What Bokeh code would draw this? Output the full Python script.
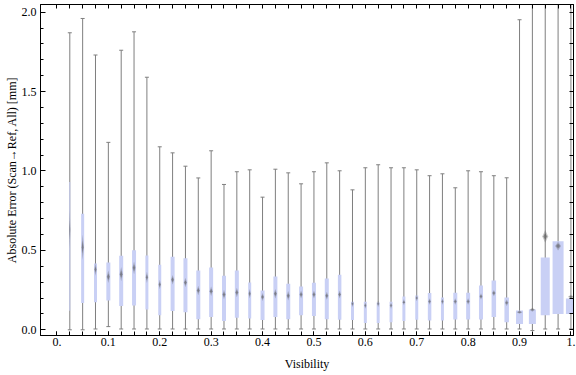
from bokeh.plotting import figure
from bokeh.models import Range1d, LinearAxis, FixedTicker, ColumnDataSource
from bokeh.embed import file_html
from bokeh.resources import INLINE

# ---- data ----
visibility = [0.025, 0.05, 0.075, 0.1, 0.125, 0.15, 0.175, 0.2, 0.225, 0.25,
              0.275, 0.3, 0.325, 0.35, 0.375, 0.4, 0.425, 0.45, 0.475, 0.5,
              0.525, 0.55, 0.575, 0.6, 0.625, 0.65, 0.675, 0.7, 0.725, 0.75,
              0.775, 0.8, 0.825, 0.85, 0.875, 0.9, 0.925, 0.95, 0.975, 1.0]
whisker_low = [0.0, 0.0, 0.005, 0.02, 0.005, 0.005, 0.005, 0.005, 0.005, 0.005,
               0.005, 0.005, 0.005, 0.005, 0.005, 0.005, 0.005, 0.005, 0.005, 0.005,
               0.005, 0.005, 0.005, 0.005, 0.005, 0.005, 0.005, 0.005, 0.005, 0.005,
               0.005, 0.005, 0.005, 0.005, 0.005, 0.005, -0.005, 0.005, 0.005, 0.005]
q1 = [0.12, 0.168, 0.173, 0.185, 0.149, 0.153, 0.128, 0.092, 0.118, 0.11,
      0.066, 0.08, 0.055, 0.076, 0.071, 0.061, 0.08, 0.067, 0.092, 0.086,
      0.067, 0.063, 0.061, 0.042, 0.042, 0.048, 0.055, 0.063, 0.059, 0.059,
      0.065, 0.065, 0.065, 0.08, 0.048, 0.036, 0.036, 0.092, 0.099, 0.099]
median = [0.63, 0.52, 0.38, 0.334, 0.35, 0.39, 0.33, 0.285, 0.315, 0.297,
          0.248, 0.243, 0.222, 0.235, 0.227, 0.206, 0.227, 0.214, 0.222, 0.222,
          0.214, 0.222, 0.164, 0.153, 0.164, 0.153, 0.174, 0.2, 0.178, 0.178,
          0.178, 0.178, 0.21, 0.231, 0.17, 0.111, 0.126, 0.588, 0.527, 0.208]
q3 = [0.93, 0.73, 0.418, 0.423, 0.466, 0.50, 0.468, 0.41, 0.46, 0.45,
      0.374, 0.392, 0.34, 0.374, 0.298, 0.248, 0.336, 0.29, 0.273, 0.296,
      0.323, 0.346, 0.176, 0.176, 0.172, 0.176, 0.21, 0.216, 0.231, 0.204,
      0.233, 0.233, 0.279, 0.31, 0.204, 0.122, 0.128, 0.455, 0.558, 0.197]
whisker_high = [1.87, 1.96, 1.73, 1.18, 1.76, 1.876, 1.59, 1.152, 1.114, 1.03,
                0.956, 1.127, 0.915, 0.995, 1.007, 0.835, 1.011, 0.988, 0.919, 0.995,
                1.051, 1.001, 0.881, 1.02, 1.039, 1.02, 1.02, 1.007, 0.97, 0.982,
                0.894, 1.001, 0.995, 0.97, 0.957, 1.952, 2.6, 2.6, 2.6, 2.6]
# relative box widths (proportional to bin size)
box_weight = [1, 3, 3, 4, 4, 4, 3, 3, 4, 4,
              4, 4, 4, 4, 3, 4, 4, 4, 4, 4,
              4, 3.5, 3, 3, 3, 3, 3, 3, 3.5, 3,
              4, 4, 4, 4.5, 4.5, 7, 7, 9, 11, 10]
# half-height of the median confidence marker
median_spread = [0.12, 0.08, 0.04, 0.04, 0.045, 0.04, 0.035, 0.03, 0.03, 0.03,
                 0.03, 0.03, 0.03, 0.03, 0.03, 0.025, 0.03, 0.03, 0.025, 0.025,
                 0.025, 0.025, 0.02, 0.02, 0.02, 0.02, 0.02, 0.02, 0.02, 0.02,
                 0.02, 0.02, 0.02, 0.02, 0.02, 0.01, 0.012, 0.04, 0.028, 0.012]
x_tick_labels = ["0.", "0.1", "0.2", "0.3", "0.4", "0.5", "0.6", "0.7", "0.8", "0.9", "1."]
y_tick_labels = ["0.0", "0.5", "1.0", "1.5", "2.0"]

# ---- styling ----
FONT = "Liberation Serif"
BOX = "#c9d0f5"
WHISK = "#7f7f7f"
UNIT_PX = 514.0  # approx. pixels per x-unit in the frame

W, H = 576, 375
p = figure(width=W, height=H, output_backend="svg", toolbar_location=None,
           x_range=Range1d(-0.032, 1.005), y_range=Range1d(-0.036, 2.048),
           x_axis_location=None, y_axis_location=None,
           min_border_left=40, min_border_right=3, min_border_top=4, min_border_bottom=40)
p.xgrid.visible = False
p.ygrid.visible = False
p.outline_line_color = "black"
p.outline_line_width = 1
p.background_fill_color = "white"
p.border_fill_color = "white"

bw = [w / UNIT_PX for w in box_weight]
src = ColumnDataSource(dict(x=visibility, lo=whisker_low, q1=q1, med=median, q3=q3,
                            hi=whisker_high, w=bw))

p.segment(x0="x", y0="lo", x1="x", y1="hi", source=src, line_color=WHISK, line_width=1)
p.scatter(x="x", y="lo", source=src, marker="dash", size=4, line_color=WHISK, line_width=1)
p.scatter(x="x", y="hi", source=src, marker="dash", size=4, line_color=WHISK, line_width=1)
p.vbar(x="x", width="w", bottom="q1", top="q3", source=src, fill_color=BOX, line_color=None)

# median markers: blurred diamonds
xs_o, ys_o, xs_i, ys_i = [], [], [], []
for x, m, s, wgt in zip(visibility, median, median_spread, box_weight):
    mw = min(max(wgt * 0.8, 1.0), 6.0) / UNIT_PX
    xs_o.append([x - mw / 2, x, x + mw / 2, x])
    ys_o.append([m, m + s, m, m - s])
    xs_i.append([x - mw / 3, x, x + mw / 3, x])
    ys_i.append([m, m + s * 0.5, m, m - s * 0.5])
p.patches(xs_o, ys_o, fill_color="#606060", fill_alpha=0.35, line_color=None)
p.patches(xs_i, ys_i, fill_color="#505050", fill_alpha=0.5, line_color=None)

# ---- frame axes ----
x_major = [0.0, 0.1, 0.2, 0.3, 0.4, 0.5, 0.6, 0.7, 0.8, 0.9, 1.0]
y_major = [0.0, 0.5, 1.0, 1.5, 2.0]
x_minor = [0.0] + visibility
y_minor = [0.0, 0.1, 0.2, 0.3, 0.4, 0.5, 0.6, 0.7, 0.8, 0.9, 1.0,
           1.1, 1.2, 1.3, 1.4, 1.5, 1.6, 1.7, 1.8, 1.9, 2.0]


def style_axis(ax, major_in, minor_in):
    ax.axis_line_color = "black"
    ax.major_tick_line_color = "black"
    ax.minor_tick_line_color = "black"
    ax.major_tick_in = major_in
    ax.major_tick_out = 0
    ax.minor_tick_in = minor_in
    ax.minor_tick_out = 0
    ax.major_label_text_font = FONT
    ax.major_label_text_font_size = "12px"
    ax.major_label_text_color = "black"
    ax.axis_label_text_font = FONT
    ax.axis_label_text_font_size = "12px"
    ax.axis_label_text_font_style = "normal"
    ax.axis_label_text_color = "black"


bottom = LinearAxis(ticker=FixedTicker(ticks=x_major, minor_ticks=x_minor),
                    axis_label="Visibility")
bottom.major_label_overrides = {v: t for v, t in zip(x_major, x_tick_labels)}
style_axis(bottom, 4, 4)
bottom.major_label_standoff = 2
bottom.axis_label_standoff = 8
p.add_layout(bottom, "below")

# top and right frame: tick marks only, no labels
top = LinearAxis(ticker=FixedTicker(ticks=[], minor_ticks=x_minor))
style_axis(top, 4, 4)
top.major_label_standoff = 0
p.add_layout(top, "above")

left = LinearAxis(ticker=FixedTicker(ticks=y_major, minor_ticks=y_minor),
                  axis_label="Absolute Error (Scan\u2192Ref, All) [mm]")
left.major_label_overrides = {v: t for v, t in zip(y_major, y_tick_labels)}
style_axis(left, 5, 3)
left.major_label_standoff = 4
left.axis_label_standoff = 0
p.add_layout(left, "left")

right = LinearAxis(ticker=FixedTicker(ticks=[], minor_ticks=y_minor))
style_axis(right, 4, 4)
right.major_label_standoff = 0
p.add_layout(right, "right")

open("out.html", "w").write(file_html(p, INLINE))
